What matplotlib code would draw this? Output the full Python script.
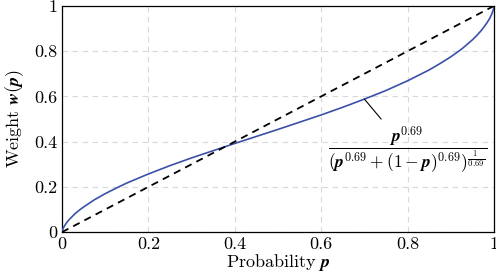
import matplotlib
matplotlib.use('Agg')
from matplotlib import pyplot as plt

# values
p = [0, 0.001, 0.0025, 0.005, 0.01, 0.015, 0.02, 0.03, 0.04, 0.05, 0.075, 0.1, 0.125, 0.15,
     0.2, 0.25, 0.3, 0.35, 0.4, 0.45, 0.5, 0.55, 0.6, 0.65, 0.7, 0.75, 0.8, 0.85,
     0.875, 0.9, 0.925, 0.95, 0.96, 0.97, 0.98, 0.985, 0.99, 0.995, 0.9975, 0.999, 1]
w = [0, 0.008, 0.016, 0.025, 0.040, 0.052, 0.062, 0.081, 0.097, 0.111, 0.143, 0.170, 0.194, 0.217,
     0.257, 0.294, 0.328, 0.360, 0.392, 0.423, 0.454, 0.486, 0.518, 0.552, 0.588, 0.626, 0.669, 0.717,
     0.745, 0.775, 0.809, 0.850, 0.869, 0.890, 0.915, 0.929, 0.945, 0.965, 0.978, 0.988, 1]
diag = [0, 1]
ticks = [0, 0.2, 0.4, 0.6, 0.8, 1]
tick_labels = ['0', '0.2', '0.4', '0.6', '0.8', '1']

plt.rcParams['mathtext.fontset'] = 'cm'
plt.rcParams['font.family'] = ['cmr10', 'DejaVu Serif']
plt.rcParams['axes.formatter.use_mathtext'] = True

fig = plt.figure(figsize=(4.96, 2.8), dpi=100)
ax = fig.add_axes([0.125, 0.171, 0.871, 0.808])

ax.plot(p, w, color='#3b50a8', lw=1.2, zorder=3)
ax.plot(diag, diag, color='black', lw=1.3, ls=(0, (4, 3)), zorder=3)

ax.set_xlim(0, 1)
ax.set_ylim(0, 1)
ax.set_xticks(ticks)
ax.set_xticklabels(tick_labels)
ax.set_yticks(ticks)
ax.set_yticklabels(tick_labels)
ax.tick_params(length=0, labelsize=13, pad=3)
ax.grid(True, color='#d9d9d9', ls=(0, (5, 4)), lw=0.8)
for s in ax.spines.values():
    s.set_linewidth(0.9)

ax.set_xlabel(r'Probability $\boldsymbol{p}$', fontsize=13, labelpad=0.5)
ax.set_ylabel(r'Weight $\boldsymbol{w(p)}$', fontsize=13, labelpad=6)

# formula label with a leader line to the curve
ax.annotate(r'$\dfrac{\boldsymbol{p}^{0.69}}{(\boldsymbol{p}^{0.69}+(1-\boldsymbol{p})^{0.69})^{\frac{1}{0.69}}}$',
            xy=(p[24], w[24]), xytext=(0.80, 0.36), ha='center', va='center', fontsize=12.5,
            arrowprops=dict(arrowstyle='-', color='black', lw=0.8, shrinkA=3, shrinkB=0))

fig.savefig('out.png', dpi=100)
